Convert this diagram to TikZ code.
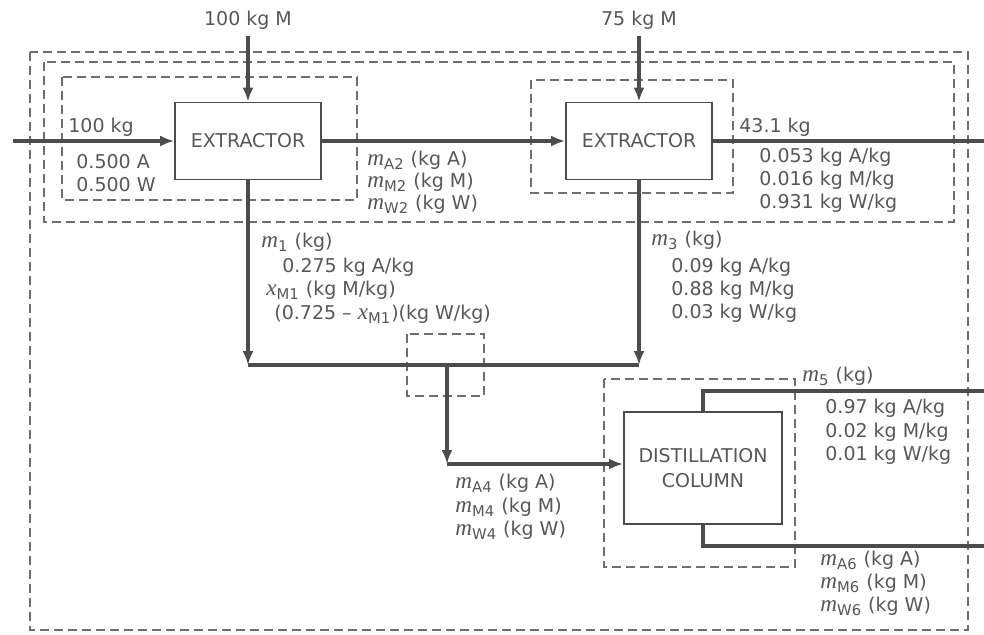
\documentclass[tikz,border=0pt]{standalone}
\usepackage{amsmath}
\usepackage{fontspec}
\setmainfont{DejaVu Sans}
\newfontfamily\varfont{Liberation Serif}[Scale=1.22]
\usepackage{tikz}
\usetikzlibrary{arrows.meta}
\usetikzlibrary{calc}

\definecolor{inkgray}{HTML}{4C4C4C}
\definecolor{txtgray}{HTML}{575757}
\definecolor{dashgray}{HTML}{6E6E6E}

% italic flow variable with sans subscript
\newcommand{\fv}[2]{$\mbox{\varfont\itshape #1}_{\text{\fontsize{7.4}{8}\selectfont #2}}$}

\begin{document}
\begin{tikzpicture}[
    x=0.5pt, y=-0.5pt,
    >={Latex[length=7pt,width=5.5pt]},
    every node/.style={font=\fontsize{9.5}{12.5}\selectfont, text=txtgray},
    unit/.style={draw=inkgray, line width=0.85pt, minimum width=73pt, minimum height=38.5pt, align=center, inner sep=2pt},
    stream/.style={draw=inkgray, line width=1.7pt},
    envelope/.style={draw=dashgray, line width=0.7pt, dash pattern=on 4.5pt off 2.5pt},
    lbl/.style={anchor=base west, inner sep=0pt}
]
\useasboundingbox (0,0) rectangle (984,634);

% system boundaries
\draw[envelope] (30,52) rectangle (968,630);
\draw[envelope] (44,62) rectangle (954,222);
\draw[envelope] (62,77) rectangle (357,200);
\draw[envelope] (531,80) rectangle (733,193);
\draw[envelope] (407,334) rectangle (484,396);
\draw[envelope] (604,379) rectangle (795,567);

% process units
\node[unit] (ext1) at (248,141) {EXTRACTOR};
\node[unit] (ext2) at (639,141) {EXTRACTOR};
\node[unit, minimum width=79pt, minimum height=56pt] (dist) at (703,468) {DISTILLATION\\COLUMN};

\node (feedM1) at (248,20) {100 kg M};
\node (feedM2) at (639,20) {75 kg M};
\coordinate (feedin) at (13,141);
\coordinate (out2) at (984,141);
\coordinate (j1) at (248,365);
\coordinate (j3) at (639,365);
\coordinate (mix) at (447,365);
\coordinate (c4) at (447,464);
\coordinate (out5) at (984,391);
\coordinate (out6) at (984,546);

% streams
\draw[stream,->] (feedM1) -- (ext1);
\draw[stream,->] (feedM2) -- (ext2);
\draw[stream,->] (feedin) -- (ext1);
\draw[stream,->] (ext1) -- (ext2);
\draw[stream] (ext2) -- (out2);
\draw[stream,->] (ext1) -- (j1);
\draw[stream,->] (ext2) -- (j3);
\draw[stream] (j1) -- (j3);
\draw[stream,->] (mix) -- (c4);
\draw[stream,->] (c4) -- (c4 -| dist.west);
\draw[stream] (dist.north) |- (out5);
\draw[stream] (dist.south) |- (out6);

% stream labels
\node[lbl] (in100) at (68,132) {100 kg};
\node[lbl] (inA) at (76,168) {0.500 A};
\node[lbl] (inW) at (76,191) {0.500 W};
\node[lbl] (s2A) at (367,165) {\fv{m}{A2} (kg A)};
\node[lbl] (s2M) at (367,187) {\fv{m}{M2} (kg M)};
\node[lbl] (s2W) at (367,209) {\fv{m}{W2} (kg W)};
\node[lbl] (out43) at (739,132) {43.1 kg};
\node[lbl] (outA) at (759,162) {0.053 kg A/kg};
\node[lbl] (outM) at (759,185) {0.016 kg M/kg};
\node[lbl] (outW) at (759,208) {0.931 kg W/kg};
\node[lbl] (s1) at (261,247) {\fv{m}{1} (kg)};
\node[lbl] (s1A) at (282,272) {0.275 kg A/kg};
\node[lbl] (s1M) at (266,295) {\fv{x}{M1} (kg M/kg)};
\node[lbl] (s1W) at (274,319) {(0.725 -- \fv{x}{M1})(kg W/kg)};
\node[lbl] (s3) at (651,245) {\fv{m}{3} (kg)};
\node[lbl] (s3A) at (671,272) {0.09 kg A/kg};
\node[lbl] (s3M) at (671,295) {0.88 kg M/kg};
\node[lbl] (s3W) at (671,318) {0.03 kg W/kg};
\node[lbl] (s4A) at (455,488) {\fv{m}{A4} (kg A)};
\node[lbl] (s4M) at (455,512) {\fv{m}{M4} (kg M)};
\node[lbl] (s4W) at (455,535) {\fv{m}{W4} (kg W)};
\node[lbl] (s5) at (802,381) {\fv{m}{5} (kg)};
\node[lbl] (s5A) at (825,413) {0.97 kg A/kg};
\node[lbl] (s5M) at (825,437) {0.02 kg M/kg};
\node[lbl] (s5W) at (825,460) {0.01 kg W/kg};
\node[lbl] (s6A) at (820,565) {\fv{m}{A6} (kg A)};
\node[lbl] (s6M) at (820,588) {\fv{m}{M6} (kg M)};
\node[lbl] (s6W) at (820,611) {\fv{m}{W6} (kg W)};
\end{tikzpicture}
\end{document}
